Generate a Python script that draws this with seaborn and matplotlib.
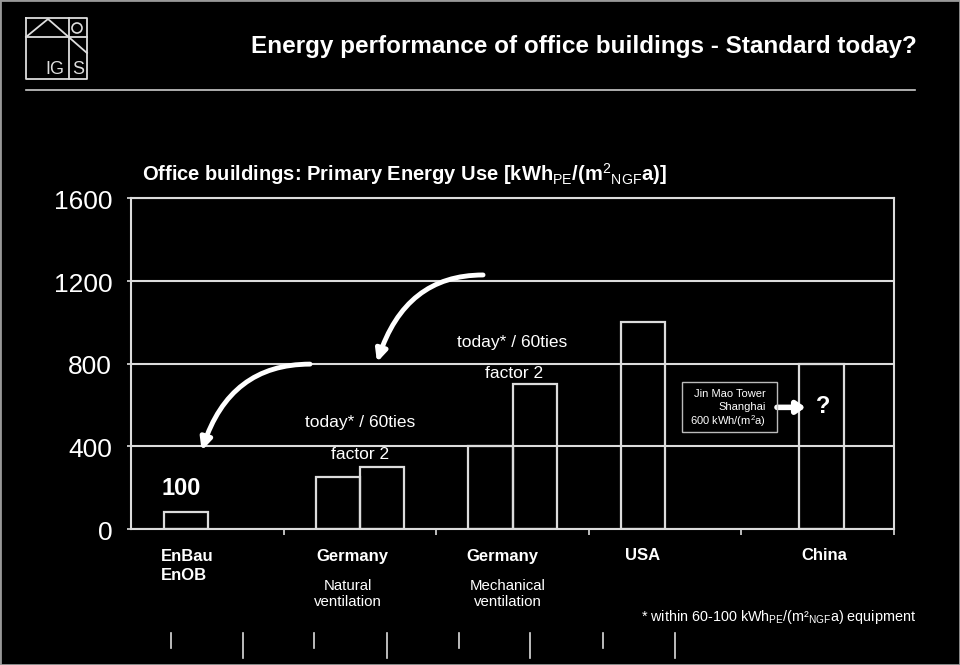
import matplotlib
matplotlib.use("Agg")
import matplotlib.pyplot as plt
import matplotlib.transforms as mtransforms
import seaborn as sns
import pandas as pd
from matplotlib.lines import Line2D
from matplotlib.patches import Rectangle, Circle

# ---------------- data ----------------
bar_names = ["EnBau/EnOB", "Germany nat. 60ties", "Germany nat. today",
             "Germany mech. 60ties", "Germany mech. today", "USA", "China"]
bar_values = [80, 250, 300, 400, 700, 1000, 800]
group_labels = ["EnBau\nEnOB", "Germany", "Germany", "USA", "China"]
group_notes = ["", "Natural\nventilation", "Mechanical\nventilation", "", ""]
y_ticks = [0, 400, 800, 1200, 1600]
y_ticklabels = ["0", "400", "800", "1200", "1600"]

# ---------------- layout ----------------
bar_x = [0.36, 1.355, 1.645, 2.355, 2.645, 3.355, 4.525]

plt.rcParams["font.family"] = ["Liberation Sans", "DejaVu Sans"]
plt.rcParams["mathtext.fontset"] = "custom"
plt.rcParams["mathtext.rm"] = "Liberation Sans"
plt.rcParams["mathtext.bf"] = "Liberation Sans:bold"
plt.rcParams["mathtext.it"] = "Liberation Sans:italic"

W, H = 960, 665
fig = plt.figure(figsize=(W / 100, H / 100), dpi=100, facecolor="black")

def fx(px):
    return px / W

def fy(py):
    return 1 - py / H

LINE = "#dcdcdc"

ax = fig.add_axes([fx(131), fy(529), fx(894) - fx(131), fy(198) - fy(529)])
ax.set_facecolor("black")

df = pd.DataFrame({"name": bar_names, "x": bar_x, "value": bar_values})
sns.barplot(data=df, x="x", y="value", native_scale=True, width=1.0,
            color="black", edgecolor=LINE, linewidth=1.6, errorbar=None,
            ax=ax, zorder=3)
for p in ax.patches:
    p.set_facecolor("none")
    p.set_edgecolor(LINE)

ax.set_xlim(0, 5)
ax.set_ylim(0, 1600)
ax.set_xlabel("")
ax.set_ylabel("")
ax.set_yticks(y_ticks)
ax.set_yticklabels(y_ticklabels)
ax.set_xticks([1, 2, 3, 4, 5])
ax.set_xticklabels([])
ax.tick_params(axis="x", colors=LINE, length=4, width=1.2, direction="out")
ax.tick_params(axis="y", colors=LINE, length=3, width=1.2, direction="out",
               labelcolor="white", labelsize=19, pad=12)
offset = mtransforms.ScaledTranslation(0.02, -0.04, fig.dpi_scale_trans)
for lbl in ax.get_yticklabels():
    lbl.set_verticalalignment("center")
    lbl.set_transform(lbl.get_transform() + offset)
ax.yaxis.grid(True, color=LINE, linewidth=1.5, zorder=1)
ax.xaxis.grid(False)
ax.set_axisbelow(True)
for s in ax.spines.values():
    s.set_color(LINE)
    s.set_linewidth(1.5)

# annotations inside plot
ax.text(0.332, 195, "100", color="white", fontsize=17, fontweight="bold",
        ha="center", va="center")
ax.text(1.50, 514, "today* / 60ties", color="white", fontsize=12.5, ha="center", va="center")
ax.text(1.50, 362, "factor 2", color="white", fontsize=12.5, ha="center", va="center")
ax.text(2.497, 900, "today* / 60ties", color="white", fontsize=12.5, ha="center", va="center")
ax.text(2.51, 754, "factor 2", color="white", fontsize=12.5, ha="center", va="center")

arrow_kw = dict(arrowstyle="-|>,head_length=0.7,head_width=0.33", lw=3.5,
                color="white", shrinkA=0, shrinkB=0)
ax.annotate("", xy=(0.463, 378), xytext=(1.173, 797),
            arrowprops=dict(connectionstyle="angle3,angleA=0,angleB=72", **arrow_kw))
ax.annotate("", xy=(1.612, 806), xytext=(2.307, 1228),
            arrowprops=dict(connectionstyle="angle3,angleA=0,angleB=72", **arrow_kw))

# Jin Mao box
ax.add_patch(Rectangle((3.611, 469), 4.233 - 3.611, 710 - 469, fill=False,
                       edgecolor="#bbbbbb", linewidth=1.0, zorder=4))
ax.text(4.161, 651, "Jin Mao Tower", color="white", fontsize=8, ha="right", va="center")
ax.text(4.161, 588, "Shanghai", color="white", fontsize=8, ha="right", va="center")
ax.text(4.161, 523, "600 kWh/(m$^\\mathrm{2}$a)", color="white", fontsize=8,
        ha="right", va="center")
ax.annotate("", xy=(4.42, 588), xytext=(4.233, 588),
            arrowprops=dict(arrowstyle="-|>,head_length=0.5,head_width=0.35",
                            lw=4, color="white", shrinkA=0, shrinkB=0))
ax.text(4.535, 592, "?", color="white", fontsize=17, fontweight="bold",
        ha="center", va="center")

# ---------------- figure-level text ----------------
fig.text(fx(584), fy(47), "Energy performance of office buildings - Standard today?",
         color="white", fontsize=17.5, fontweight="bold", ha="center", va="center")
fig.text(fx(142), fy(174),
         "Office buildings: Primary Energy Use [kWh$_\\mathrm{PE}$/(m$^\\mathrm{2}$$_\\mathrm{NGF}$a)]",
         color="white", fontsize=14.5, fontweight="bold", ha="left", va="center")

# group labels
group_cx = [None, 352, 502, 643, 824]
fig.text(fx(161), fy(566), group_labels[0], color="white", fontsize=12,
         fontweight="bold", ha="left", va="center", linespacing=1.3)
for i in range(1, 5):
    fig.text(fx(group_cx[i]), fy(556), group_labels[i], color="white", fontsize=12,
             fontweight="bold", ha="center", va="center")
note_cx = [None, 348, 508]
for i in (1, 2):
    fig.text(fx(note_cx[i]), fy(594), group_notes[i], color="white", fontsize=10.8,
             ha="center", va="center", linespacing=1.1)

fig.text(fx(641), fy(617),
         "* within 60-100 kWh$_\\mathrm{PE}$/(m\u00b2$_\\mathrm{NGF}$a) equipment",
         color="white", fontsize=10.4, ha="left", va="center")

# ---------------- decorations ----------------
def fline(xs, ys, **kw):
    fig.add_artist(Line2D([fx(v) for v in xs], [fy(v) for v in ys],
                          transform=fig.transFigure, **kw))

# logo
logo_kw = dict(color="#dddddd", linewidth=1.3)
fline([26, 87, 87, 26, 26], [18, 18, 79, 79, 18], **logo_kw)
fline([26, 87], [37, 37], **logo_kw)
fline([69, 69], [18, 79], **logo_kw)
fline([26, 48, 87], [37, 19, 53], **logo_kw)
fig.add_artist(Circle((0.77, (H - 28) / 100), 0.05, transform=fig.dpi_scale_trans,
                      fill=False, edgecolor="#dddddd", linewidth=1.2))
fig.text(fx(55), fy(70), "IG", color="#dddddd", fontsize=13, ha="center", va="center")
fig.text(fx(78), fy(70), "S", color="#dddddd", fontsize=13, ha="center", va="center")

# title rule
fline([26, 915], [90, 90], color="#cccccc", linewidth=1.2)

# bottom tick marks
for i, xp in enumerate([171, 243, 314, 387, 459, 530, 603, 675]):
    fline([xp, xp], [633, 648 if i % 2 == 0 else 658], color="#dddddd", linewidth=1.2)

# frame
fig.add_artist(Rectangle((0, 0), 1, 1, transform=fig.transFigure, fill=False,
                         edgecolor="#999999", linewidth=2))

fig.savefig("out.png", dpi=100, facecolor="black")
